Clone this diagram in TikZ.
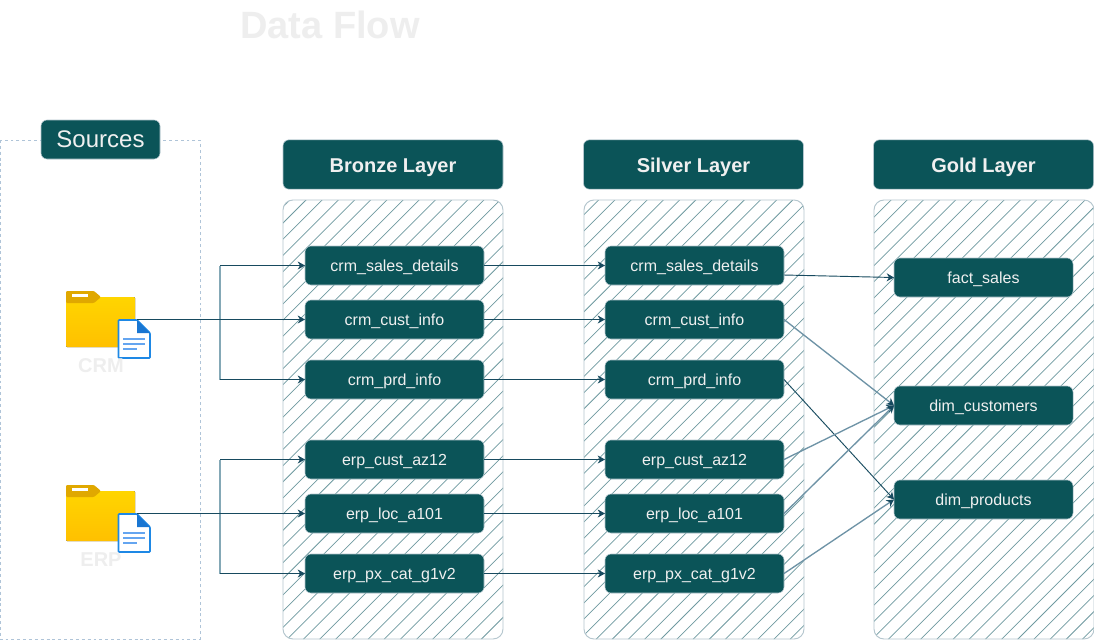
\documentclass[tikz,border=0pt]{standalone}
\usepackage{fontspec}
\setmainfont{Liberation Sans}
\usetikzlibrary{arrows.meta}
\definecolor{tealfill}{HTML}{0B5458}
\definecolor{paletext}{HTML}{F0F0F0}
\definecolor{ghost}{HTML}{EEEEEE}
\definecolor{rimline}{HTML}{B4C6CE}
\definecolor{dashline}{HTML}{AFC4D8}
\definecolor{hatchline}{HTML}{6F9AA0}
\definecolor{darkflow}{HTML}{174A5F}
\definecolor{softflow}{HTML}{6E93A6}
\definecolor{splitline}{HTML}{84A8B6}
\definecolor{foldertop}{HTML}{FFD500}
\definecolor{folderlow}{HTML}{FFC000}
\definecolor{foldertab}{HTML}{E0A800}
\definecolor{docblue}{HTML}{1E88E5}
\definecolor{docfold}{HTML}{1976D2}
\definecolor{doclines}{HTML}{64A5F0}
\tikzset{
  tablebox/.style={draw=rimline,fill=tealfill,rounded corners=4.5pt,text=paletext,font=\fontsize{12}{14}\selectfont,text height=9pt,text depth=0.3pt,minimum width=134.25pt,minimum height=29.25pt,inner sep=0pt,outer sep=0pt},
  layerhead/.style={tablebox,font=\fontsize{15}{18}\selectfont\bfseries,text height=12pt,text depth=0pt,minimum width=165pt,minimum height=37pt},
  sourcehead/.style={tablebox,font=\fontsize{18}{21}\selectfont,text height=13pt,text depth=0.3pt,minimum width=89.25pt,minimum height=29.25pt},
  ghosttext/.style={text=ghost,font=\bfseries},
  flowline/.style={draw=darkflow,line width=0.7pt,-{Stealth[length=5.5pt,width=6pt]}},
  softline/.style={draw=softflow,line width=1pt,-{Stealth[length=5.5pt,width=6pt,color=darkflow]}},
  srcfolder/.pic={
    \fill[top color=foldertop,bottom color=folderlow,rounded corners=0.8pt] (0,6) rectangle (69,56);
    \fill[foldertab,rounded corners=0.8pt] (0,0) -- (28,0) -- (35,6) -- (28,12) -- (0,12) -- cycle;
    \fill[white] (6,3) rectangle (22,6);
    \draw[fill=white,draw=docblue,line width=1.2pt,rounded corners=0.6pt] (52.5,29) -- (71,29) -- (84,42) -- (84,67) -- (52.5,67) -- cycle;
    \fill[docfold] (71,29) -- (84,42) -- (71,42) -- cycle;
    \foreach \rowy/\rowx in {48/79,53/79,58/71}
      \draw[doclines,line width=1.7pt] (57,\rowy) -- (\rowx,\rowy);
  }
}
\newcommand{\hatchcol}[2]{
  \begin{scope}
    \clip[rounded corners=7.5pt] (#1,200) rectangle (#1+220,639);
    \foreach \k in {-1,...,42}
      \draw[hatchline,line width=0.55pt] (#1+10+#2+\k*16.17,190) -- (#1-440+#2+\k*16.17,640);
  \end{scope}
  \draw[rimline,line width=0.7pt,rounded corners=7.5pt] (#1,200) rectangle (#1+220,639);
}
\begin{document}
\begin{tikzpicture}[x=0.75pt,y=-0.75pt]
  \useasboundingbox (0,0) rectangle (1094,640);
  \fill[white] (0,0) rectangle (1094,640);
  \node[ghosttext,font=\fontsize{28.5}{32}\selectfont\bfseries] (title) at (330,25) {Data Flow};

  % sources
  \draw[dashline,dash pattern=on 2.2pt off 2.2pt,line width=0.6pt] (0,140) rectangle (200,639);
  \node[sourcehead] (sources) at (100.5,139.5) {Sources};
  \pic at (66,291) {srcfolder};
  \pic at (66,485) {srcfolder};
  \node[ghosttext,font=\fontsize{15}{18}\selectfont\bfseries] (crm) at (101,366) {CRM};
  \node[ghosttext,font=\fontsize{15}{18}\selectfont\bfseries] (erp) at (101,560) {ERP};
  \coordinate (crmdoc) at (137,319.5);
  \coordinate (erpdoc) at (137,513.5);
  \coordinate (crmsplit) at (220,319.5);
  \coordinate (erpsplit) at (220,513.5);
  \coordinate (salesout) at (784,275);

  % layers
  \hatchcol{283}{23}
  \hatchcol{584}{14.7}
  \hatchcol{874}{17}
  \node[layerhead] (bronze) at (393,164.5) {Bronze Layer};
  \node[layerhead] (silver) at (693.5,164.5) {Silver Layer};
  \node[layerhead] (gold) at (983.5,164.5) {Gold Layer};

  \foreach \name/\ypos/\txt in {sd/265.5/crm\_sales\_details,ci/319.5/crm\_cust\_info,pi/379.5/crm\_prd\_info,ca/459.5/erp\_cust\_az12,la/513.5/erp\_loc\_a101,pc/573.5/erp\_px\_cat\_g1v2}{
    \node[tablebox] (b\name) at (394.5,\ypos) {\txt};
    \node[tablebox] (s\name) at (694.5,\ypos) {\txt};
  }
  \node[tablebox] (fact) at (983.5,277.5) {fact\_sales};
  \node[tablebox] (cust) at (983.5,405.5) {dim\_customers};
  \node[tablebox] (prod) at (983.5,499.5) {dim\_products};

  % connectors
  \draw[splitline,line width=1.3pt] (220,265.5) -- (crmsplit) -- (220,379.5);
  \draw[splitline,line width=1.3pt] (220,459.5) -- (erpsplit) -- (220,573.5);
  \draw[flowline] (crmdoc) -- (bci);
  \draw[flowline] (erpdoc) -- (bla);
  \draw[flowline] (220,265.5) -- (bsd);
  \draw[flowline] (220,379.5) -- (bpi);
  \draw[flowline] (220,459.5) -- (bca);
  \draw[flowline] (220,573.5) -- (bpc);
  \foreach \from in {sd,ci,pi,ca,la,pc}
    \draw[flowline] (b\from) -- (s\from);
  \draw[flowline] (salesout) -- (fact.west);
  \draw[flowline] (spi.east) -- (prod.west);
  \foreach \from/\to in {sci/cust,sca/cust,sla/cust,spc/prod}
    \draw[softline] (\from.east) -- (\to.west);
\end{tikzpicture}
\end{document}
